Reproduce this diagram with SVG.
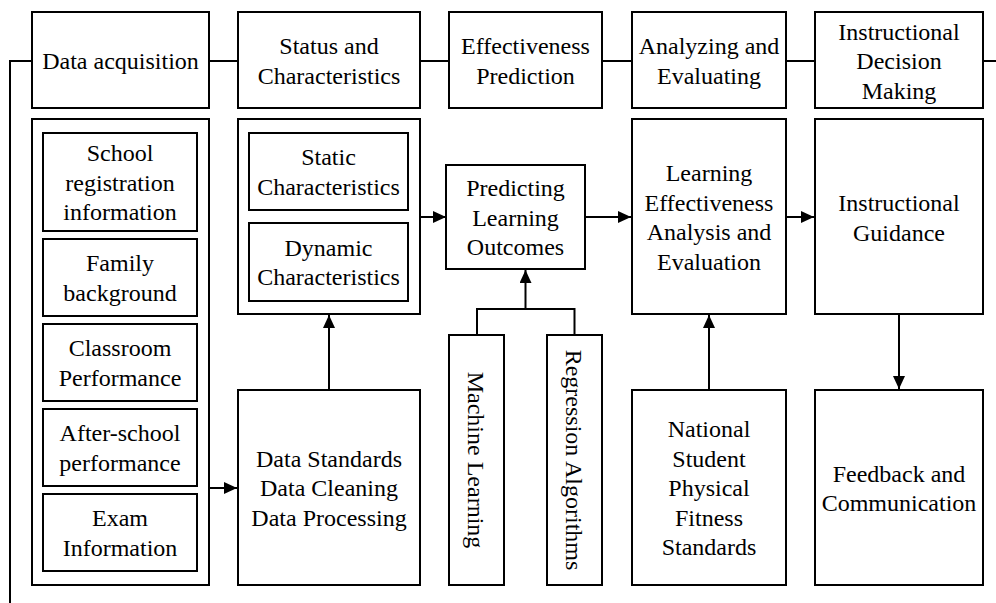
<svg xmlns="http://www.w3.org/2000/svg" width="996" height="603" viewBox="0 0 996 603">
  <style>
    .box { fill: #fff; stroke: #000; stroke-width: 2; }
    .ln { fill: none; stroke: #000; stroke-width: 2; }
    text { font-family: "Liberation Serif", "Times New Roman", serif; font-size: 24px; fill: #000; text-anchor: middle; }
  </style>
  <defs>
    <marker id="arr" markerWidth="13" markerHeight="12" refX="13" refY="6" orient="auto" markerUnits="userSpaceOnUse">
      <path d="M0,0 L13,6 L0,12 Z" fill="#000"/>
    </marker>
  </defs>

  <!-- connectors -->
  <g id="connectors">
    <!-- stage chain along the top row -->
    <path class="ln" d="M10,603 V61 H32"/>
    <path class="ln" d="M209,61 H238"/>
    <path class="ln" d="M420,61 H449"/>
    <path class="ln" d="M602,61 H632"/>
    <path class="ln" d="M786,61 H815"/>
    <path class="ln" d="M983,61 H996"/>
    <!-- data flow -->
    <path class="ln" d="M209,488 H237" marker-end="url(#arr)"/>
    <path class="ln" d="M329,390 V315" marker-end="url(#arr)"/>
    <path class="ln" d="M420,217 H446" marker-end="url(#arr)"/>
    <path class="ln" d="M585,217 H631" marker-end="url(#arr)"/>
    <path class="ln" d="M786,217 H814" marker-end="url(#arr)"/>
    <path class="ln" d="M477,335 V309 H574.5 V335"/>
    <path class="ln" d="M525.5,309 V270" marker-end="url(#arr)"/>
    <path class="ln" d="M709,390 V315" marker-end="url(#arr)"/>
    <path class="ln" d="M899,314 V389" marker-end="url(#arr)"/>
  </g>

  <!-- top row: stages -->
  <g id="stage-acquisition">
    <rect class="box" x="32" y="12" width="177" height="96"/>
    <text x="120.5" y="69">Data acquisition</text>
  </g>
  <g id="stage-status">
    <rect class="box" x="238" y="12" width="182" height="96"/>
    <text x="329" y="54">Status and</text>
    <text x="329" y="83.5">Characteristics</text>
  </g>
  <g id="stage-prediction">
    <rect class="box" x="449" y="12" width="153" height="96"/>
    <text x="525.5" y="54">Effectiveness</text>
    <text x="525.5" y="83.5">Prediction</text>
  </g>
  <g id="stage-analysis">
    <rect class="box" x="632" y="12" width="154" height="96"/>
    <text x="709" y="54">Analyzing and</text>
    <text x="709" y="83.5">Evaluating</text>
  </g>
  <g id="stage-decision">
    <rect class="box" x="815" y="12" width="168" height="96"/>
    <text x="899" y="39.5">Instructional</text>
    <text x="899" y="69">Decision</text>
    <text x="899" y="98.5">Making</text>
  </g>

  <!-- data sources -->
  <g id="sources">
    <rect class="box" x="32" y="119" width="177" height="466"/>
  </g>
  <g id="src-registration">
    <rect class="box" x="43" y="133" width="154" height="98"/>
    <text x="120" y="161">School</text>
    <text x="120" y="190.5">registration</text>
    <text x="120" y="220">information</text>
  </g>
  <g id="src-family">
    <rect class="box" x="43" y="239" width="154" height="77"/>
    <text x="120" y="271">Family</text>
    <text x="120" y="300.5">background</text>
  </g>
  <g id="src-classroom">
    <rect class="box" x="43" y="324" width="154" height="77"/>
    <text x="120" y="356">Classroom</text>
    <text x="120" y="385.5">Performance</text>
  </g>
  <g id="src-afterschool">
    <rect class="box" x="43" y="409" width="154" height="77"/>
    <text x="120" y="441">After-school</text>
    <text x="120" y="470.5">performance</text>
  </g>
  <g id="src-exam">
    <rect class="box" x="43" y="494" width="154" height="77"/>
    <text x="120" y="526">Exam</text>
    <text x="120" y="555.5">Information</text>
  </g>

  <!-- characteristics -->
  <g id="characteristics">
    <rect class="box" x="238" y="119" width="182" height="195"/>
  </g>
  <g id="char-static">
    <rect class="box" x="249" y="133" width="159" height="77"/>
    <text x="328.5" y="165">Static</text>
    <text x="328.5" y="194.5">Characteristics</text>
  </g>
  <g id="char-dynamic">
    <rect class="box" x="249" y="223" width="159" height="78"/>
    <text x="328.5" y="255.5">Dynamic</text>
    <text x="328.5" y="285">Characteristics</text>
  </g>

  <g id="preprocessing">
    <rect class="box" x="238" y="390" width="182" height="195"/>
    <text x="329" y="466.5">Data Standards</text>
    <text x="329" y="496">Data Cleaning</text>
    <text x="329" y="525.5">Data Processing</text>
  </g>

  <g id="predicting">
    <rect class="box" x="446" y="165" width="139" height="104"/>
    <text x="515.5" y="196">Predicting</text>
    <text x="515.5" y="225.5">Learning</text>
    <text x="515.5" y="255">Outcomes</text>
  </g>

  <g id="machine-learning">
    <rect class="box" x="449" y="335" width="55" height="250"/>
    <text transform="translate(468,460) rotate(90)">Machine Learning</text>
  </g>
  <g id="regression">
    <rect class="box" x="547" y="335" width="55" height="250"/>
    <text transform="translate(566,460) rotate(90)">Regression Algorithms</text>
  </g>

  <g id="evaluation">
    <rect class="box" x="632" y="119" width="154" height="195"/>
    <text x="709" y="181">Learning</text>
    <text x="709" y="210.5">Effectiveness</text>
    <text x="709" y="240">Analysis and</text>
    <text x="709" y="269.5">Evaluation</text>
  </g>

  <g id="fitness-standards">
    <rect class="box" x="632" y="390" width="154" height="195"/>
    <text x="709" y="437">National</text>
    <text x="709" y="466.5">Student</text>
    <text x="709" y="496">Physical</text>
    <text x="709" y="525.5">Fitness</text>
    <text x="709" y="555">Standards</text>
  </g>

  <g id="guidance">
    <rect class="box" x="815" y="119" width="168" height="195"/>
    <text x="899" y="211">Instructional</text>
    <text x="899" y="240.5">Guidance</text>
  </g>

  <g id="feedback">
    <rect class="box" x="815" y="390" width="168" height="195"/>
    <text x="899" y="481.5">Feedback and</text>
    <text x="899" y="511">Communication</text>
  </g>
</svg>
